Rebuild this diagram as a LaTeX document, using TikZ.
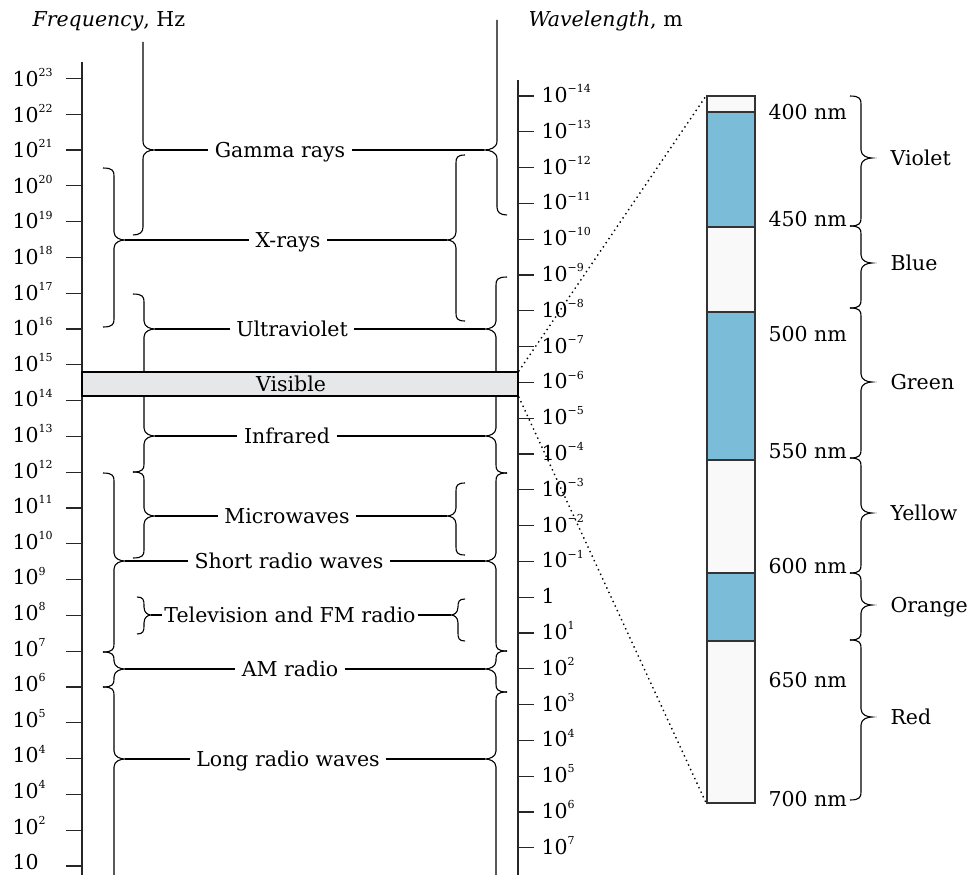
\documentclass[tikz,border=0pt]{standalone}
\usepackage{fontspec}
\setmainfont{DejaVu Serif}
\usetikzlibrary{positioning}

\definecolor{visgray}{RGB}{230,231,232}
\definecolor{specblue}{RGB}{123,188,217}
\definecolor{specwhite}{RGB}{249,249,249}

\newcommand{\supx}[1]{\raisebox{0.48em}{\fontsize{11}{11}\selectfont #1}}
% tip name, x, top, tip, bottom, half width
\newcommand{\cbrace}[6]{%
  \draw (#2,#3) .. controls ({#2+0.9*(#6)},#3) and ({#2+(#6)},{#3+3}) .. ({#2+(#6)},{#3+8})
    -- ({#2+(#6)},{#4-8}) .. controls ({#2+(#6)},{#4-2}) and ({#2+1.6*(#6)},#4) .. ({#2+2*(#6)},#4) coordinate (#1)
    .. controls ({#2+1.6*(#6)},#4) and ({#2+(#6)},{#4+2}) .. ({#2+(#6)},{#4+8})
    -- ({#2+(#6)},{#5-8}) .. controls ({#2+(#6)},{#5-3}) and ({#2+0.9*(#6)},#5) .. (#2,#5);}

\begin{document}
\begin{tikzpicture}[x=1pt, y=-1pt, line width=1.1pt,
    every node/.style={font=\fontsize{20.5}{24}\selectfont, inner sep=0pt},
    band/.style={inner xsep=6pt, text height=15pt, text depth=0pt},
    colname/.style={anchor=west, text height=15pt, text depth=0pt},
    axis/.style={line width=1.2pt, black!85},
    visbar/.style={draw, line width=1.2pt, fill=visgray, minimum width=436pt, minimum height=24pt},
    specbar/.style={draw=black!80, line width=1.2pt, fill=specwhite, minimum width=48pt, minimum height=707pt},
    specseg/.style={draw=black!80, line width=1.2pt, fill=specblue},
    zoomline/.style={line width=1.4pt, dash pattern=on 1.4pt off 3.6pt}
]
    \useasboundingbox (0,0) rectangle (978,875);

    \node[anchor=base west] (freq) at (32,27) {\textit{Frequency}, Hz};
    \node[anchor=base west] (wave) at (528,27) {\textit{Wavelength}, m};

    \draw[axis] (82,62) -- (82,880);
    \draw[axis] (518,80) -- (518,880);
    \foreach \e [count=\i from 0] in {23,22,21,20,19,18,17,16,15,14,13,12,11,10,9,8,7,6,5,4,4,2,{}} {
        \draw[axis] (66,78.3+35.8*\i) -- (82,78.3+35.8*\i);
        \node[anchor=base west] (f\i) at (12,86.5+35.6*\i) {10\supx{\e}};
    }
    \foreach \t [count=\i from 0] in {10\supx{−14},10\supx{−13},10\supx{−12},10\supx{−11},10\supx{−10},10\supx{−9},10\supx{−8},10\supx{−7},10\supx{−6},10\supx{−5},10\supx{−4},10\supx{−3},10\supx{−2},10\supx{−1},1,10\supx{1},10\supx{2},10\supx{3},10\supx{4},10\supx{5},10\supx{6},10\supx{7}} {
        \draw[axis] (518,96+35.8*\i) -- (534,96+35.8*\i);
        \node[anchor=base west] (w\i) at (541,102.5+35.8*\i) {\t};
    }

    % braces, frequency side
    \draw (143,42) -- (143,141) .. controls (143,148) and (149,150) .. (155,150) coordinate (gamma-l)
        .. controls (149,150) and (143,152) .. (143,159) -- (143,227) .. controls (143,232) and (140,235) .. (133,235);
    \cbrace{xray-l}{103}{168}{240}{327}{11}
    \cbrace{uv-l}{133}{294}{329}{386}{11}
    \cbrace{ir-l}{133}{382}{436}{472}{11}
    \cbrace{micro-l}{133}{472}{516}{558}{11}
    \cbrace{srw-l}{103}{473}{561}{652}{11}
    \cbrace{tvfm-l}{137}{597}{615}{634}{7}
    \cbrace{am-l}{103}{652}{669}{687}{11}
    \cbrace{lrw-l}{103}{687}{759}{890}{11}

    % braces, wavelength side
    \draw (497,20) -- (497,141) .. controls (497,148) and (490,150) .. (484,150) coordinate (gamma-r)
        .. controls (490,150) and (497,152) .. (497,159) -- (497,207) .. controls (497,212) and (500,215) .. (507,215);
    \cbrace{xray-r}{465}{155}{240}{321}{-9}
    \cbrace{uv-r}{507}{277}{329}{386}{-11}
    \cbrace{ir-r}{507}{382}{436}{473}{-11}
    \cbrace{micro-r}{465}{483}{516}{555}{-9}
    \cbrace{srw-r}{507}{473}{561}{651}{-11}
    \cbrace{tvfm-r}{465}{599}{615}{641}{-7}
    \cbrace{am-r}{507}{651}{669}{692}{-11}
    \cbrace{lrw-r}{507}{692}{759}{890}{-11}

    \node[visbar] (visbar) at (300,384) {};
    \node (vis) at (291,384) {Visible};

    \node[band] (gamma) at (280,150) {Gamma rays};
    \node[band] (xray) at (288,240) {X-rays};
    \node[band] (uv) at (292,329) {Ultraviolet};
    \node[band] (ir) at (287,436) {Infrared};
    \node[band] (micro) at (287,516) {Microwaves};
    \node[band] (srw) at (289,561) {Short radio waves};
    \node[band, inner xsep=2pt] (tvfm) at (290,615) {Television and FM radio};
    \node[band] (am) at (290,669) {AM radio};
    \node[band] (lrw) at (288,759) {Long radio waves};
    \foreach \b in {gamma,xray,uv,ir,micro,srw,tvfm,am,lrw} {
        \draw (\b-l) -- (\b.west);
        \draw (\b.east) -- (\b-r);
    }

    % visible spectrum
    \node[specbar] (spec) at (731,449.5) {};
    \draw[specseg] (707,112) rectangle (755,227);
    \draw[specseg] (707,312) rectangle (755,460);
    \draw[specseg] (707,573) rectangle (755,641);
    \draw[zoomline] (visbar.north east) -- (spec.north west);
    \draw[zoomline] (visbar.south east) -- (spec.south west);

    \foreach \n/\yb in {400/119,450/226,500/341,550/458,600/573,650/687,700/806}
        \node[anchor=base west] (nm\n) at (768,\yb) {\n~nm};

    \cbrace{violet-b}{850}{96}{158}{226}{11}
    \cbrace{blue-b}{850}{226}{263}{308}{11}
    \cbrace{green-b}{850}{308}{382}{458}{11}
    \cbrace{yellow-b}{850}{458}{513}{573}{11}
    \cbrace{orange-b}{850}{573}{605}{640}{11}
    \cbrace{red-b}{850}{640}{717}{800}{11}
    \node[colname, right=18pt of violet-b] (cviolet) {Violet};
    \node[colname, right=18pt of blue-b] (cblue) {Blue};
    \node[colname, right=18pt of green-b] (cgreen) {Green};
    \node[colname, right=18pt of yellow-b] (cyellow) {Yellow};
    \node[colname, right=18pt of orange-b] (corange) {Orange};
    \node[colname, right=18pt of red-b] (cred) {Red};
\end{tikzpicture}
\end{document}
